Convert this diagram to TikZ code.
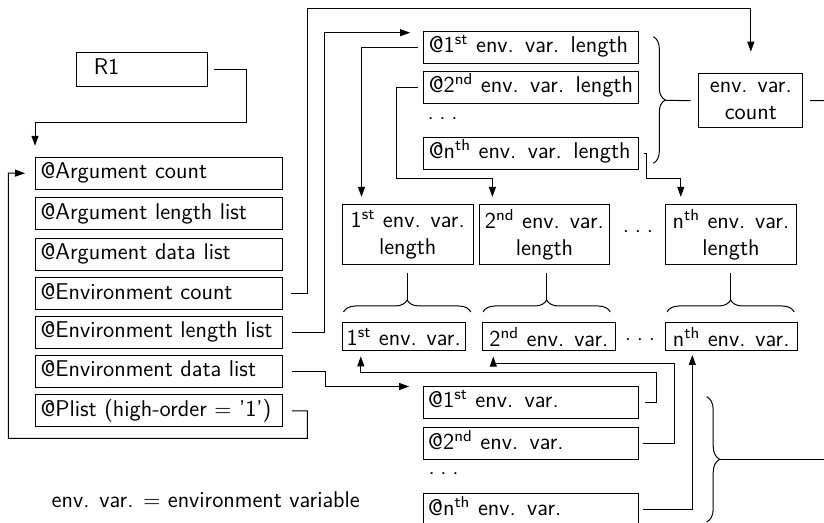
\documentclass[tikz,border=0pt]{standalone}
\usepackage{fontspec}
\usetikzlibrary{arrows.meta,decorations.pathreplacing,calc}
\newcommand\spdots{.\hspace{2.9pt}.\hspace{2.9pt}.}
\begin{document}
\begin{tikzpicture}[x=0.5pt,y=-0.5pt,
  font=\sffamily\fontsize{11.4}{13.3}\selectfont,
  line width=0.5pt,
  lbox/.style={draw, anchor=north west, text width=118.5pt, inner xsep=2.5pt, inner ysep=0pt,
    minimum height=16pt, text height=7.9pt, text depth=2.6pt, align=left},
  pbox/.style={draw, anchor=north west, text width=102.5pt, inner xsep=2.5pt, inner ysep=0pt,
    minimum height=16pt, text height=7.9pt, text depth=2.6pt, align=left},
  lenb/.style={draw, anchor=north west, inner sep=0pt, minimum width=65.4pt, minimum height=30pt, align=center},
  vb/.style={draw, anchor=north west, inner sep=0pt, minimum height=13.85pt, align=center},
  dotn/.style={inner sep=0pt},
  arr/.style={-{Triangle[length=5pt,width=3.5pt]}},
  brc/.style={decorate, decoration={brace, amplitude=#1}},
  brc/.default=6pt]
\useasboundingbox (0,0) rectangle (824,523);

% left column
\node[lbox, text width=48.5pt, inner xsep=8.5pt, minimum height=16.7pt] (R1) at (76.3,52.3) {R1};
\node[lbox] (argc) at (35,157) {@Argument count};
\node[lbox] (arglen) at (35,197.3) {@Argument length list};
\node[lbox] (argdata) at (35,238) {@Argument data list};
\node[lbox] (envc) at (35,277.3) {@Environment count};
\node[lbox] (envlen) at (35,316) {@Environment length list};
\node[lbox] (envdata) at (35,354.7) {@Environment data list};
\node[lbox] (plist) at (35,394.3) {@Plist (high-order $=$ '1')};

% length pointers
\node[pbox] (len1) at (423.3,30.7) {@1\textsuperscript{st} env. var. length};
\node[pbox] (len2) at (423.3,71) {@2\textsuperscript{nd} env. var. length};
\node[dotn, anchor=base west] (lendots) at (427,119.5) {\spdots};
\node[pbox] (lenn) at (423.3,136.7) {@n\textsuperscript{th} env. var. length};

% count
\node[draw, anchor=north west, inner sep=0pt, minimum width=52pt, minimum height=27pt, align=center] (count) at (698.3,73.3) {env. var.\\count};

% lengths
\node[lenb] (l1) at (341.8,204.3) {1\textsuperscript{st} env. var.\\length};
\node[lenb] (l2) at (478.5,204.3) {2\textsuperscript{nd} env. var.\\length};
\node[dotn] (ldots) at (638,232) {\spdots};
\node[lenb] (ln) at (665.1,204.3) {n\textsuperscript{th} env. var.\\length};

% variables
\node[vb, minimum width=61.4pt] (v1) at (341.8,322.3) {1\textsuperscript{st} env. var.};
\node[vb, minimum width=66.4pt] (v2) at (482,322.3) {2\textsuperscript{nd} env. var.};
\node[dotn] (vdots) at (640,339.6) {\spdots};
\node[vb, minimum width=66.25pt] (vn) at (664.5,322.3) {n\textsuperscript{th} env. var.};

% data pointers
\node[pbox] (data1) at (422.7,386) {@1\textsuperscript{st} env. var.};
\node[pbox] (data2) at (422.7,427.3) {@2\textsuperscript{nd} env. var.};
\node[dotn, anchor=base west] (datadots) at (428,474) {\spdots};
\node[pbox] (datan) at (422.7,493.3) {@n\textsuperscript{th} env. var.};

\node[anchor=base west, inner sep=0pt] (note) at (51.2,507.3) {env. var. $=$ environment variable};

% connectors
\coordinate (r1a) at (246.7,122.7);
\draw[arr, shorten <=2.7pt, shorten >=5.6pt] (R1.east) -| (r1a) -| (argc.north west);

\coordinate (top) at (307.3,8.3);
\draw[arr, shorten <=4pt, shorten >=10.8pt] (envc.east) -| (top) -| (count.north);

\coordinate (el) at (324.5,32.7);
\draw[arr, shorten <=4.5pt, shorten >=6.6pt] (envlen.east) -| (el) -- (el -| len1.west);

\coordinate (pl) at (307.3,438.3);
\coordinate (pr) at (8.3,173);
\draw[arr, shorten <=4.5pt, shorten >=5pt] (plist.east) -| (pl) -| (pr) -- (argc.west);

\coordinate (ed) at (325,386.5);
\draw[arr, shorten <=4.5pt, shorten >=6.8pt] (envdata.east) -| (ed) -- (ed -| data1.west);

\coordinate (t1) at (361.5,204.3);
\draw[arr, shorten <=2.5pt, shorten >=3.7pt] (len1.west) -| (t1);
\coordinate (k2) at (396.7,178.3);
\coordinate (t2) at (492.4,204.3);
\draw[arr, shorten <=2.5pt, shorten >=3.7pt] (len2.west) -| (k2) -| (t2);
\coordinate (kn) at (646.7,178.3);
\coordinate (tn) at (680.8,204.3);
\draw[arr, shorten <=2.2pt, shorten >=3.7pt] (lenn.east) -| (kn) -| (tn);

\coordinate (j1) at (656.7,372.3);
\coordinate (b1) at (360.8,350);
\draw[arr, shorten <=3.3pt, shorten >=3.2pt] (data1.east) -| (j1) -| (b1);
\coordinate (j2) at (674.3,364);
\coordinate (b2) at (493.3,350);
\draw[arr, shorten <=2pt, shorten >=3.3pt] (data2.east) -| (j2) -| (b2);
\coordinate (bn) at (692.3,350);
\draw[arr, shorten <=2pt, shorten >=2.5pt] (datan.east) -| (bn);

% braces
\draw[brc] (343.5,312) -- (470.8,312);
\coordinate (bt1) at (407.15,300);
\draw[shorten >=4pt] (bt1) -- (bt1 |- l1.south);
\draw[brc] (483,312) -- (610.3,312);
\coordinate (bt2) at (546.65,300);
\draw[shorten >=4pt] (bt2) -- (bt2 |- l2.south);
\draw[brc] (667,312) -- (794.2,312);
\coordinate (bt3) at (730.6,300);
\draw[shorten >=4pt] (bt3) -- (bt3 |- ln.south);

\draw[brc] (653.3,36.7) -- (653.3,163.3);
\coordinate (bc) at (665.3,100.3);
\draw[shorten >=3.8pt] (bc) -- (count.west);
\coordinate (cr) at (840,100.3);
\draw[shorten <=3.35pt] (count.east) -- (cr);

\draw[brc=6.5pt] (706.7,396.7) -- (706.7,522);
\coordinate (bb) at (719.7,459.35);
\coordinate (br) at (840,459.35);
\draw (bb) -- (br);
\end{tikzpicture}
\end{document}
